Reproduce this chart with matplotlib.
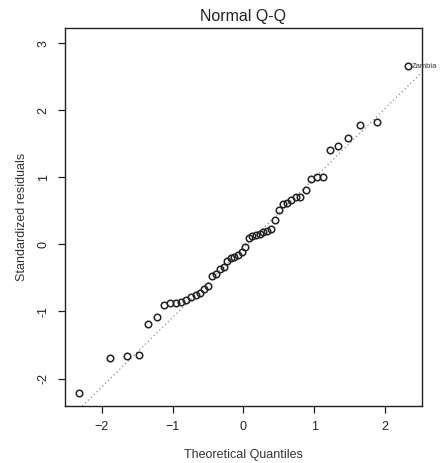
import numpy as np
import matplotlib
matplotlib.use("Agg")
import matplotlib.pyplot as plt

plt.rcParams['font.family'] = ['Liberation Sans', 'DejaVu Sans']

# theoretical normal quantiles, n = 50 (lower half, mirrored for the upper half)
theo_lower = [-2.326, -1.881, -1.645, -1.476, -1.341, -1.227, -1.126, -1.036,
              -0.954, -0.878, -0.806, -0.739, -0.674, -0.613, -0.553, -0.496,
              -0.440, -0.385, -0.332, -0.279, -0.228, -0.176, -0.126, -0.075,
              -0.025]
theo_q = np.array(theo_lower + [-v for v in theo_lower[::-1]])

# sorted standardized residuals
std_resid = np.array([
    -2.21, -1.69, -1.67, -1.65, -1.19, -1.08, -0.91, -0.88, -0.87, -0.86,
    -0.83, -0.79, -0.76, -0.72, -0.67, -0.62, -0.47, -0.44, -0.37, -0.34,
    -0.24, -0.21, -0.19, -0.16, -0.11, -0.04, 0.10, 0.12, 0.14, 0.16,
    0.18, 0.20, 0.23, 0.37, 0.51, 0.60, 0.62, 0.66, 0.70, 0.70,
    0.81, 0.97, 1.00, 1.00, 1.41, 1.46, 1.58, 1.78, 1.82, 2.66])
outlier_label = "Zambia"

x_ticks = [-2, -1, 0, 1, 2]
y_ticks = [-2, -1, 0, 1, 2, 3]

fig = plt.figure(figsize=(4.45, 4.63), dpi=100)
ax = fig.add_axes([0.146, 0.123, 0.802, 0.817])

# qqline through the quartiles
y_q = np.quantile(std_resid, [0.25, 0.75])
x_q = np.array([-0.6745, 0.6745])
slope = (y_q[1] - y_q[0]) / (x_q[1] - x_q[0])
icpt = y_q[0] - slope * x_q[0]
xl = np.array([-3, 3])
ax.plot(xl, icpt + slope * xl, linestyle=(0, (1, 2.2)), color='#8a8a8a', lw=0.9)

ax.plot(theo_q, std_resid, 'o', mfc='none', mec='#222222', mew=1.1, ms=4.7)
ax.text(theo_q[-1] + 0.05, std_resid[-1], outlier_label, fontsize=5.5,
        ha='left', va='center', color='#333333', clip_on=False)

ax.set_xlim(-2.52, 2.52)
ax.set_ylim(-2.41, 3.23)
ax.set_xticks(x_ticks)
ax.set_yticks(y_ticks)
ax.set_yticklabels([str(t) for t in y_ticks], rotation=90, va='center')
ax.tick_params(direction='out', length=5, width=0.9, labelsize=9,
               colors='#222222', pad=6)
for s in ax.spines.values():
    s.set_linewidth(1.0)
    s.set_color('#222222')

ax.set_xlabel("Theoretical Quantiles", fontsize=9, color='#333333', labelpad=11)
ax.set_ylabel("Standardized residuals", fontsize=9, color='#333333', labelpad=7)
ax.set_title("Normal Q-Q", fontsize=11.5, color='#222222', pad=5)

fig.savefig("out.png", dpi=100)
